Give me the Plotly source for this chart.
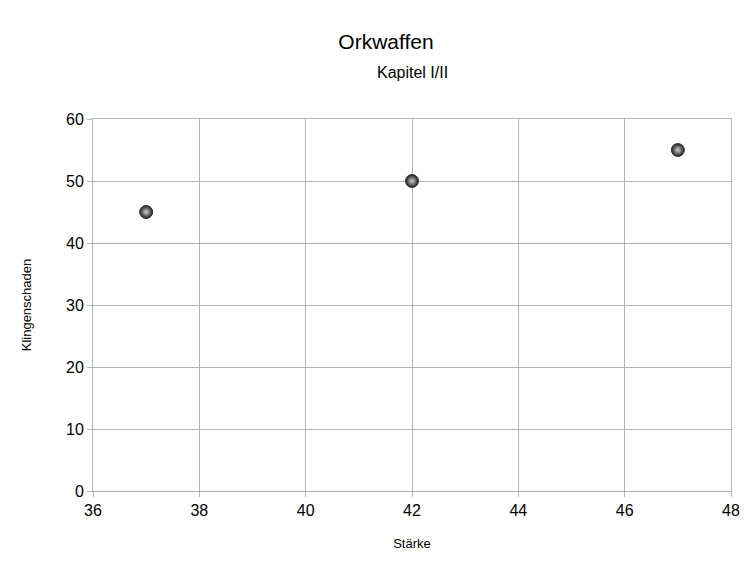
import plotly.graph_objects as go

staerke = [37, 42, 47]
klingenschaden = [45, 50, 55]

fig = go.Figure()
fig.add_trace(go.Scatter(
    x=staerke, y=klingenschaden, mode="markers",
    marker=dict(size=13, color="#1e1e1e",
                gradient=dict(type="radial", color="#d0d0d0"),
                line=dict(width=1, color="#333333")),
    showlegend=False,
))

fig.update_layout(
    width=756, height=580,
    paper_bgcolor="white", plot_bgcolor="white",
    font=dict(family="Liberation Sans, Arial, sans-serif", color="black"),
    title=dict(text="Orkwaffen", x=0.5, xanchor="center",
               y=1 - 26 / 580, yanchor="top", font=dict(size=21)),
    annotations=[dict(text="Kapitel I/II", xref="paper", yref="paper",
                      x=0.5, y=1.0, yshift=47, xanchor="center", yanchor="middle",
                      showarrow=False, font=dict(size=16))],
    margin=dict(l=85, r=33, t=111, b=97),
    xaxis=dict(range=[36, 48], dtick=2, showgrid=True, gridcolor="#b3b3b3",
               linecolor="#b3b3b3", showline=True, mirror=True, zeroline=False,
               ticks="outside", ticklen=5, tickcolor="#b3b3b3",
               tickfont=dict(size=16),
               title=dict(text="Stärke", font=dict(size=13), standoff=20)),
    yaxis=dict(range=[0, 60], dtick=10, showgrid=True, gridcolor="#b3b3b3",
               linecolor="#b3b3b3", showline=True, mirror=True, zeroline=False,
               ticks="outside", ticklen=5, tickcolor="#b3b3b3",
               tickfont=dict(size=16),
               title=dict(text="Klingenschaden", font=dict(size=13), standoff=31)),
)

fig.write_html("out.html")
